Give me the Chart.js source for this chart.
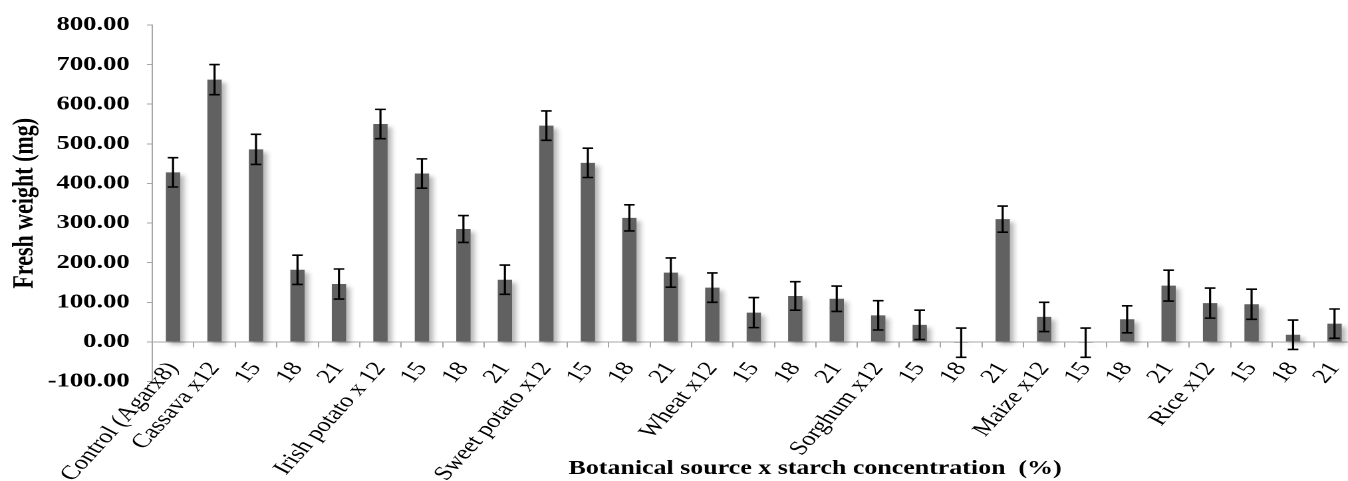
<!DOCTYPE html>
<html>
<head>
<meta charset="utf-8">
<script src="https://cdn.jsdelivr.net/npm/chart.js@4.4.1/dist/chart.umd.min.js"></script>
<style>
  html, body { margin: 0; padding: 0; overflow: hidden; background: #fff; }
  /* the source figure is stretched sideways, so the whole chart is too */
  #wrap { width: 1020px; height: 481px; transform: scaleX(1.33); transform-origin: 0 0; }
</style>
</head>
<body>
<div id="wrap"><canvas id="chart"></canvas></div>
<script>
const categories = [
  "Control (Agarx8)",
  "Cassava x12", "15", "18", "21",
  "Irish potato x 12", "15", "18", "21",
  "Sweet potato x12", "15", "18", "21",
  "Wheat x12", "15", "18", "21",
  "Sorghum x12", "15", "18", "21",
  "Maize x12", "15", "18", "21",
  "Rice x12", "15", "18", "21"
];
const freshWeight = [428, 662, 486, 182, 146, 550, 425, 285, 157, 546, 452, 313, 175,
  137, 74, 116, 109, 67, 43, -2, 310, 63, -2, 57, 142, 98, 95, 18, 46];
const errorSize = [37, 38, 38, 37, 38, 37, 37, 34, 37, 37, 37, 33, 37,
  37, 38, 36, 32, 37, 37, 37, 33, 37, 37, 34, 39, 38, 38, 37, 37];
const yMin = -100;
const yMax = 800;
const yStep = 100;
const yTitle = "Fresh weight (mg)";
const xTitle = "Botanical source x starch concentration  (%)";

const serif = "'Liberation Serif', 'Times New Roman', serif";

const barExtras = {
    id: "barExtras",
    beforeDatasetsDraw(chart) {
        const ctx = chart.ctx;
        const r = chart.currentDevicePixelRatio;
        ctx.save();
        ctx.shadowColor = "rgba(0,0,0,0.3)";
        ctx.shadowBlur = 4 * r;
        ctx.shadowOffsetX = 3 * r;
        ctx.shadowOffsetY = 3 * r;
    },
    afterDatasetsDraw(chart) {
        const ctx = chart.ctx;
        ctx.restore();
        // error bars
        const y = chart.scales.y;
        const meta = chart.getDatasetMeta(0);
        ctx.save();
        ctx.strokeStyle = "#000";
        ctx.lineWidth = 1.6;
        meta.data.forEach((bar, i) => {
            const top = y.getPixelForValue(freshWeight[i] + errorSize[i]);
            const bot = y.getPixelForValue(freshWeight[i] - errorSize[i]);
            ctx.beginPath();
            ctx.moveTo(bar.x, top);
            ctx.lineTo(bar.x, bot);
            ctx.moveTo(bar.x - 4, top);
            ctx.lineTo(bar.x + 4, top);
            ctx.moveTo(bar.x - 4, bot);
            ctx.lineTo(bar.x + 4, bot);
            ctx.stroke();
        });
        ctx.restore();
    },
    afterDraw(chart) {
        const ctx = chart.ctx;
        const area = chart.chartArea;
        ctx.save();
        ctx.font = "bold 19.5px " + serif;
        ctx.fillStyle = "#000";
        ctx.textAlign = "center";
        ctx.textBaseline = "alphabetic";
        ctx.fillText(xTitle, area.left + 0.551 * (area.right - area.left), chart.height - 7);
        ctx.restore();
    }
};

const chart = new Chart(document.getElementById("chart"), {
    type: "bar",
    data: {
        labels: categories,
        datasets: [
            {
                data: freshWeight,
                backgroundColor: "#616161",
                borderWidth: 0,
                categoryPercentage: 1,
                barPercentage: 0.345
            }
        ]
    },
    options: {
        responsive: true,
        maintainAspectRatio: false,
        animation: false,
        devicePixelRatio: 2,
        layout: {
            padding: { left: 1.4, top: 18.3, right: 1, bottom: 99.5 }
        },
        plugins: {
            legend: { display: false },
            tooltip: { enabled: false }
        },
        scales: {
            x: {
                position: { y: 0 },
                offset: true,
                afterFit: s => { s.paddingLeft = 0; s.paddingRight = 0; },
                ticks: {
                    autoSkip: false,
                    minRotation: 55,
                    maxRotation: 55,
                    padding: 11,
                    color: "#000",
                    font: { family: serif, size: 20 }
                },
                grid: { drawOnChartArea: false, offset: true, tickLength: 5, color: "#a6a6a6" },
                border: { color: "#a6a6a6" }
            },
            y: {
                min: yMin,
                max: yMax,
                afterFit: s => { s.width = 113.1; },
                ticks: {
                    stepSize: yStep,
                    padding: 13,
                    color: "#000",
                    font: { family: serif, size: 20, weight: "bold" },
                    callback: v => v.toFixed(2)
                },
                grid: { drawOnChartArea: false, tickLength: 4, color: "#a6a6a6" },
                border: { color: "#a6a6a6" },
                title: {
                    display: true,
                    text: yTitle,
                    color: "#000",
                    font: { family: serif, size: 22, weight: "bold" },
                    padding: { top: 4, bottom: 4 }
                }
            }
        }
    },
    plugins: [barExtras]
});
</script>
</body>
</html>
